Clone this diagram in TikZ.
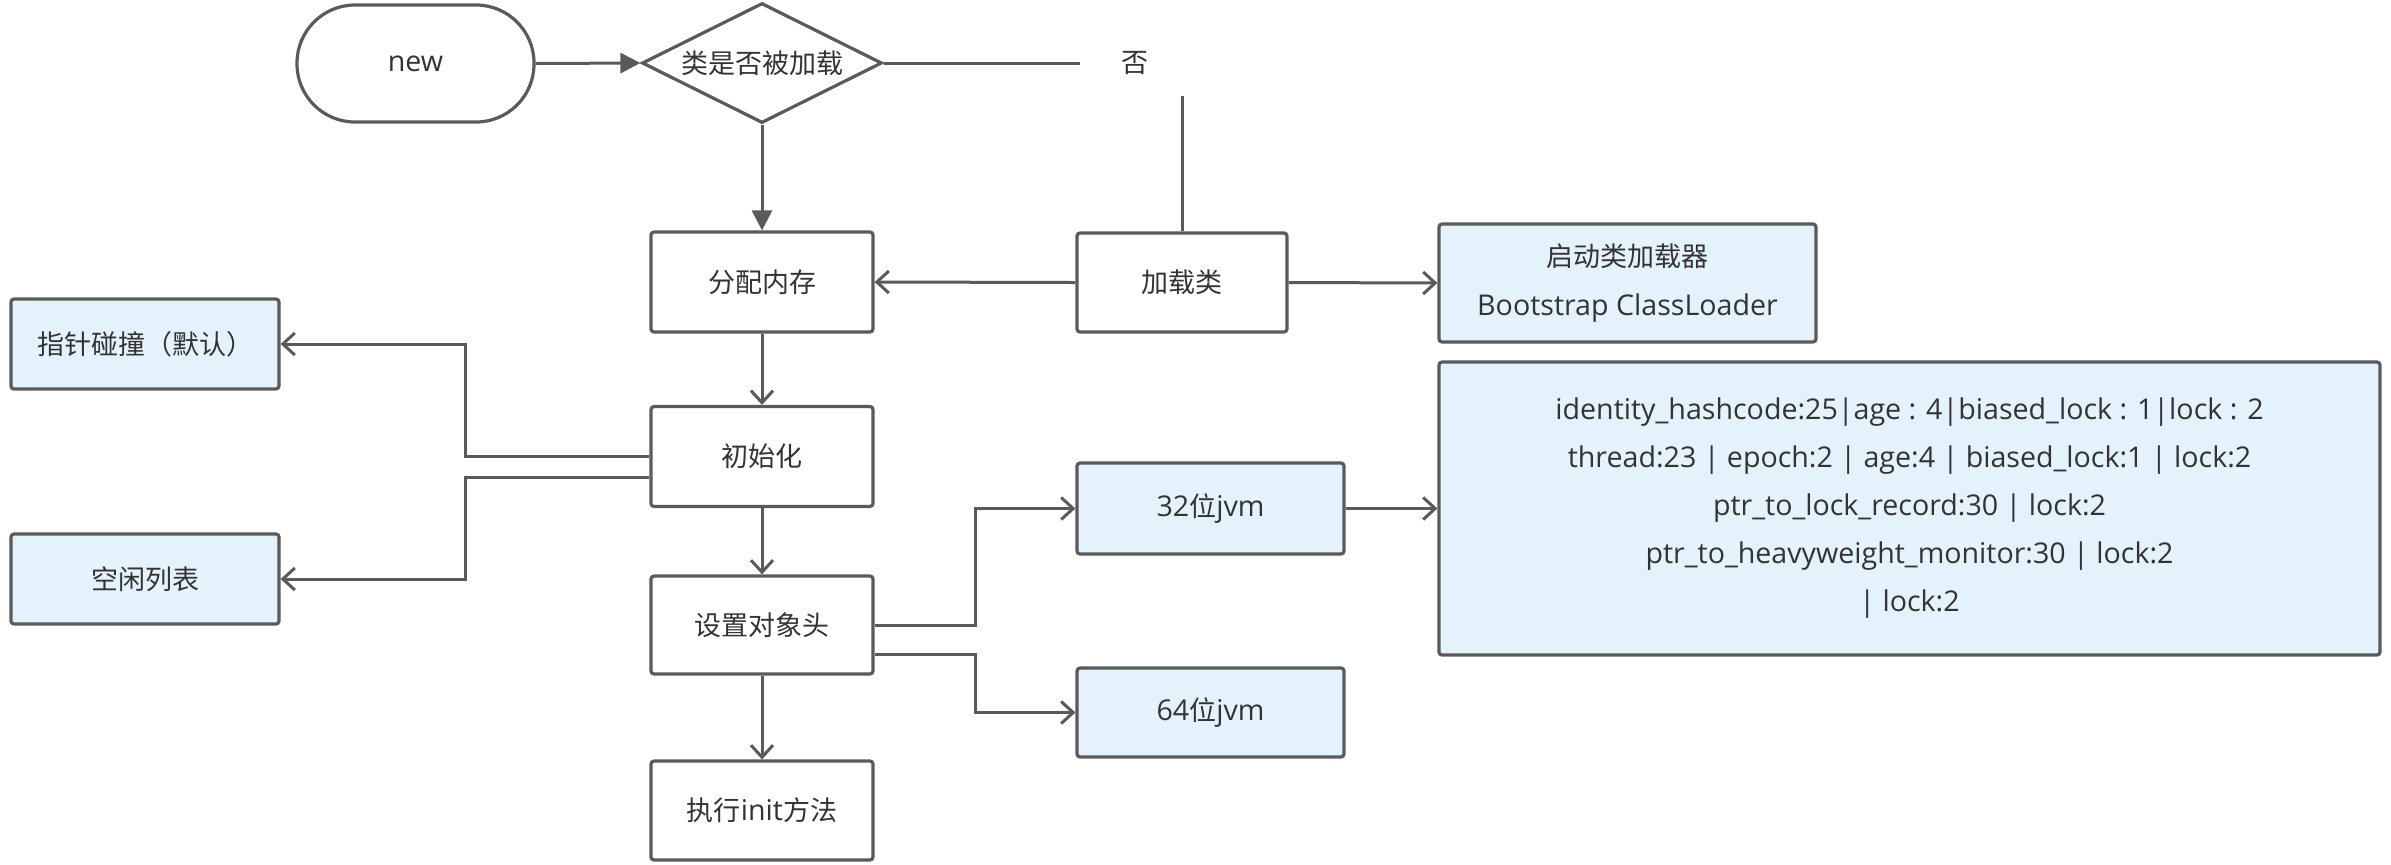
\documentclass[tikz,border=0pt]{standalone}
\usepackage{fontspec}
\setmainfont{Open Sans}
\newfontfamily\cjkf{Noto Sans CJK SC}
\newcommand\zh[1]{{\fontsize{13.5}{16}\selectfont\cjkf #1}}
\usetikzlibrary{arrows.meta,shapes.geometric,calc}
\definecolor{linec}{HTML}{5A5A5A}
\definecolor{txtc}{HTML}{333333}
\definecolor{bluef}{HTML}{E4F2FB}
\begin{document}
\begin{tikzpicture}[x=0.5pt,y=-0.5pt,
  every node/.style={text=txtc,font=\fontsize{14.3}{16}\selectfont},
  box/.style={draw=linec,line width=1.6pt,rounded corners=1.5pt,inner sep=0pt,fill=white},
  bluebox/.style={box,fill=bluef},
  conn/.style={draw=linec,line width=1.5pt,-{Straight Barb[length=6pt,width=11pt,line width=1.5pt]}},
  fconn/.style={draw=linec,line width=1.5pt,-{Triangle[length=10pt,width=10pt]}},
  plain/.style={draw=linec,line width=1.5pt}]
\useasboundingbox (0,0) rectangle (2391,864);
\node[box,rounded corners=29pt,minimum width=118.5pt,minimum height=58.5pt] (new) at (415.5,63.5) {new};
\node[draw=linec,line width=1.6pt,diamond,aspect=2,inner sep=0pt,fill=white,minimum width=120pt,minimum height=60pt] (q) at (762,63) {\zh{类是否被加载}};
\node[box,minimum width=111pt,minimum height=50pt] (alloc) at (762,282) {\zh{分配内存}};
\node[box,minimum width=111pt,minimum height=50pt] (init) at (762,456.5) {\zh{初始化}};
\node[box,minimum width=111pt,minimum height=49pt] (header) at (762,625) {\zh{设置对象头}};
\node[box,minimum width=111pt,minimum height=49.5pt] (exec) at (762,810.5) {\zh{执行}init\zh{方法}};
\node[box,minimum width=105pt,minimum height=49.5pt] (load) at (1182,282.5) {\zh{加载类}};
\node[bluebox,minimum width=188.5pt,minimum height=59pt,align=center,font=\fontsize{14.3}{24.5}\selectfont] (boot) at (1627.5,283) {\zh{启动类加载器}\\Bootstrap ClassLoader};
\node[bluebox,minimum width=470.5pt,minimum height=146.5pt,align=center,font=\fontsize{14.3}{24}\selectfont] (big) at (1909.5,508.5) {identity\_hashcode:25|age : 4|biased\_lock : 1|lock : 2\\thread:23 | epoch:2 | age:4 | biased\_lock:1 | lock:2\\ptr\_to\_lock\_record:30 | lock:2\\ptr\_to\_heavyweight\_monitor:30 | lock:2\\| lock:2};
\node[bluebox,minimum width=133.5pt,minimum height=45.5pt] (j32) at (1210.5,508.5) {32\zh{位}jvm};
\node[bluebox,minimum width=133.5pt,minimum height=44.5pt] (j64) at (1210.5,712.5) {64\zh{位}jvm};
\node[bluebox,minimum width=134pt,minimum height=45pt] (ptr) at (145,344) {\zh{指针碰撞（默认）}};
\node[bluebox,minimum width=134pt,minimum height=45pt] (free) at (145,579) {\zh{空闲列表}};
\coordinate (jx) at (465,0);
\coordinate (hx) at (975,0);
% connectors
\draw[fconn] (new.east) -- (q.west);
\draw[fconn] (q.south) -- (alloc.north);
\draw[plain] (q.east) -| (load.north);
\node[fill=white,inner sep=0pt,minimum width=55pt,minimum height=33pt] (no) at (1135,63) {\zh{否}};
\draw[conn] (load.west) -- (alloc.east);
\draw[conn] (load.east) -- (boot.west);
\draw[conn] (alloc.south) -- (init.north);
\draw[conn] (init.south) -- (header.north);
\draw[conn] (header.south) -- (exec.north);
\draw[conn] (init.west) -- (init.west -| jx) |- (ptr.east);
\draw[conn] ($(init.west)+(0,21)$) -- ($(init.west -| jx)+(0,21)$) |- (free.east);
\draw[conn] (header.east) -- (header.east -| hx) |- (j32.west);
\draw[conn] ($(header.east)+(0,29)$) -- ($(header.east -| hx)+(0,29)$) |- (j64.west);
\draw[conn] (j32.east) -- (big.west);
\end{tikzpicture}
\end{document}
